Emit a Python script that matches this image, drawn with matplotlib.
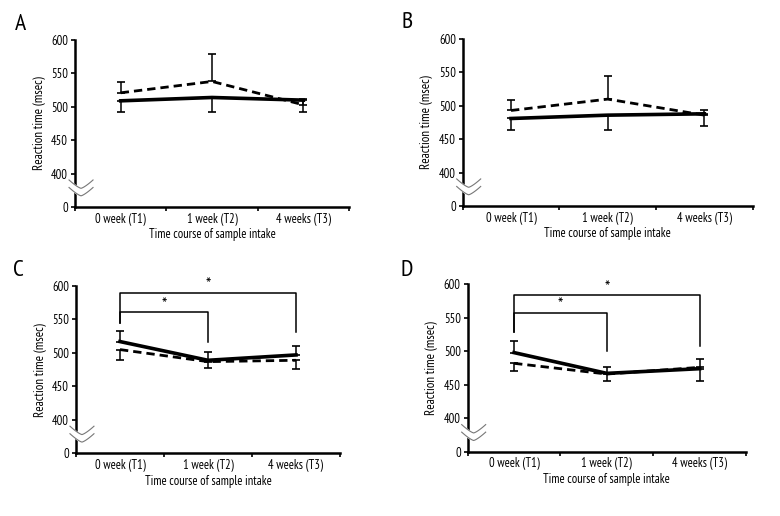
import numpy as np
import matplotlib
matplotlib.use('Agg')
import matplotlib.pyplot as plt

plt.rcParams['font.family'] = ['PT Sans Narrow', 'Roboto Condensed', 'Archivo Narrow',
                               'Liberation Sans Narrow', 'DejaVu Sans']

# data (reaction time, msec)
categories = ['0 week (T1)', '1 week (T2)', '4 weeks (T3)']
panels = ['A', 'B', 'C', 'D']

solid_mean = {'A': [509, 514, 510], 'B': [481, 486, 488],
              'C': [517, 489, 497], 'D': [498, 467, 474]}
solid_err = {'A': [16, 21, 17], 'B': [17, 22, 18],
             'C': [16, 12, 13], 'D': [18, 9, 14]}
dashed_mean = {'A': [521, 538, 503], 'B': [493, 510, 486],
               'C': [505, 487, 489], 'D': [482, 466, 476]}
dashed_err = {'A': [16, 41, 8], 'B': [15, 34, 7],
              'C': [15, 10, 13], 'D': [12, 11, 20]}

# significance brackets: (top, left leg end, right leg end, right index)
brackets = {'C': [(590, 544, 532, 2), (561, 544, 517, 1)],
            'D': [(584, 529, 508, 2), (557.6, 529, 500.5, 1)]}

yticks = [0, 400, 450, 500, 550, 600]

rects = {'A': [0.0962, 0.5988, 0.3513, 0.3236],
         'B': [0.5932, 0.6008, 0.3718, 0.3236],
         'C': [0.0974, 0.1215, 0.3385, 0.3242],
         'D': [0.5996, 0.1246, 0.3568, 0.3244]}
letter_pos = {'A': (20, 25), 'B': (407, 22), 'C': (18, 270), 'D': (407, 270)}


def fwd(v):
    v = np.asarray(v, dtype=float)
    return np.where(v < 400, v / 400.0, 1 + (v - 400) / 50.0)


def inv(p):
    p = np.asarray(p, dtype=float)
    return np.where(p < 1, p * 400.0, 400 + (p - 1) * 50.0)


fig = plt.figure(figsize=(7.8, 5.16), dpi=100)

for key in panels:
    ax = fig.add_axes(rects[key])
    ax.set_yscale('function', functions=(fwd, inv))
    x = np.arange(len(categories)) + 0.5
    flip = key in ('C', 'D')
    s_err = [[0] * 3, solid_err[key]] if flip else [solid_err[key], [0] * 3]
    d_err = [dashed_err[key], [0] * 3] if flip else [[0] * 3, dashed_err[key]]
    ax.errorbar(x, dashed_mean[key], yerr=d_err, color='black', lw=2.0,
                ls=(0, (3.0, 1.8)), elinewidth=1.1, capsize=3, capthick=1.2)
    ax.errorbar(x, solid_mean[key], yerr=s_err, color='black', lw=2.6,
                elinewidth=1.1, capsize=3, capthick=1.2)

    for top, lend, rend, ri in brackets.get(key, []):
        ax.plot([x[0], x[0], x[ri], x[ri]], [lend, top, top, rend],
                color='black', lw=1.1)
        ax.annotate('*', ((x[0] + x[ri]) / 2, top), xytext=(0, 4.5),
                    textcoords='offset points', ha='center', va='center',
                    fontsize=13)

    ax.set_xlim(0, 3)
    ax.set_ylim(0, 600)
    ax.set_yticks(yticks)
    ax.set_yticklabels([str(t) for t in yticks])
    ax.yaxis.set_minor_locator(matplotlib.ticker.NullLocator())
    ax.set_xticks([0, 1, 2, 3])
    ax.set_xticklabels([])
    ax.set_xticks(x, minor=True)
    ax.set_xticklabels(categories, minor=True)
    ax.tick_params(axis='x', which='minor', length=0, labelsize=9, pad=4)
    ax.tick_params(axis='x', which='major', length=3, width=1.2, direction='out')
    ax.tick_params(axis='y', length=3, width=1.2, labelsize=9, pad=2)
    for s in ['top', 'right']:
        ax.spines[s].set_visible(False)
    for s in ['left', 'bottom']:
        ax.spines[s].set_linewidth(1.8)
    ax.set_xlabel('Time course of sample intake', fontsize=9, labelpad=2)
    ax.set_ylabel('Reaction time (msec)', fontsize=9.4, labelpad=4)

    # axis break marks between 0 and 400
    w = ax.get_position().width * 780
    t = np.linspace(-1, 1, 21)
    bx = (-6 + (t + 1) * 12) / w
    shape = np.abs(t) ** 1.3
    upper = 0.162 - (1 - shape) * 0.05
    lower = upper - 0.045
    ax.fill_between(bx, lower, upper, color='white', transform=ax.transAxes,
                    clip_on=False, zorder=5)
    ax.plot(bx, upper, color='#777777', lw=0.8, transform=ax.transAxes,
            clip_on=False, zorder=6)
    ax.plot(bx, lower, color='#777777', lw=0.8, transform=ax.transAxes,
            clip_on=False, zorder=6)

    lx, ly = letter_pos[key]
    fig.text(lx / 780, 1 - ly / 516, key, fontsize=17, ha='center', va='center')

fig.savefig('out.png', dpi=100)
